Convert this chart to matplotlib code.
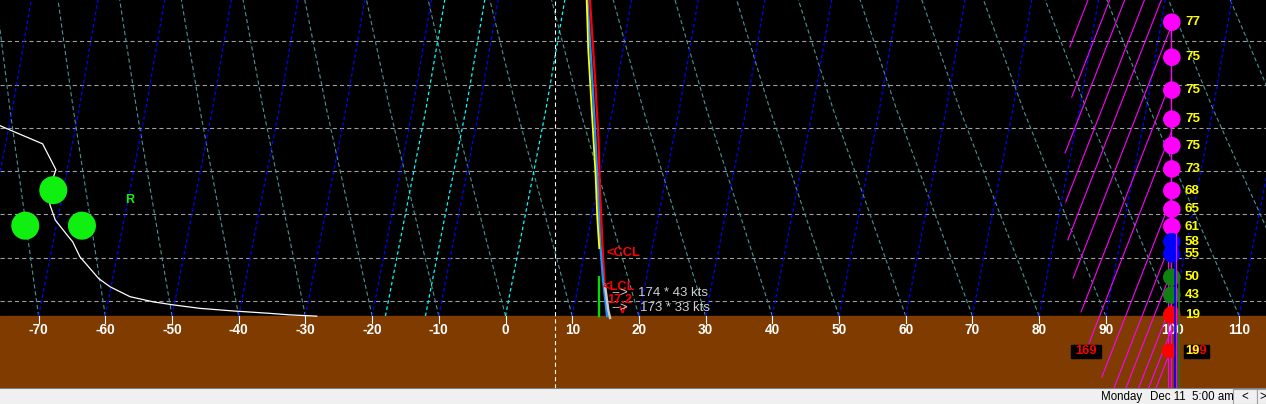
import numpy as np
import matplotlib.pyplot as plt
from matplotlib.patches import Rectangle

plt.rcParams['font.family'] = ['Liberation Sans', 'DejaVu Sans']
plt.rcParams['lines.scale_dashes'] = False

# ---- data (temperature in deg, height in grid levels) ----
GROUND_H = -0.346
LEVELS = [0, 1, 2, 3, 4, 5, 6]
TICKS = list(range(-70, 111, 10))

# skew of isotherms with height
SKEW_H = [-0.346, 4.41, 6.96]
SKEW_DT = [0.0, 6.04, 8.90]

ISOTHERMS = [t for t in range(-90, 111, 10) if t != 0]
CYAN_ISOTHERMS = [-18, -12, 0]
ADIABATS = list(range(-80, 131, 10))

# white curve on the left
CURVE_T = [-75.8, -74.3, -69.4, -67.4, -68.5, -68.3, -67.5, -65.5, -64.9, -63.8, -61.0,
           -59.3, -56.3, -52.8, -49.8, -45.8, -40.8, -35.8, -32.3, -28.3]
CURVE_H = [4.05, 3.95, 3.63, 3.03, 2.56, 2.22, 1.87, 1.48, 1.37, 1.02, 0.52,
           0.33, 0.10, -0.02, -0.09, -0.17, -0.23, -0.28, -0.32, -0.35]

GREEN_DOT_T = [-67.8, -72.0, -63.5]
GREEN_DOT_H = [2.56, 1.74, 1.74]

# sounding traces (actual temperature, unskewed)
RED_T = [3.78, 5.19, 6.52, 8.67, 10.47, 12.64, 14.15, 14.6]
RED_H = [6.95, 6.03, 5.17, 3.79, 2.56, 1.18, 0.25, 0.02]
BLUE_T = [3.40, 5.49, 7.6, 9.8, 11.93, 13.57, 15.22]
BLUE_H = [6.95, 5.57, 4.18, 2.80, 1.41, 0.48, -0.35]
YELLOW_T = [3.28, 4.81, 7.27, 9.45, 10.85, 12.07]
YELLOW_H = [6.95, 5.80, 4.18, 2.86, 1.94, 1.22]
GREEN_T = [12.88, 14.02]
GREEN_H = [0.55, -0.35]
GRAY_T = [14.0, 15.23, 15.67]
GRAY_H = [0.37, -0.21, -0.39]

# wind column on the right
WIND_H = [6.44, 5.63, 4.87, 4.20, 3.59, 3.05, 2.55, 2.12, 1.72, 1.37, 1.09, 0.55, 0.14, -0.32]
WIND_LABELS = ['77', '75', '75', '75', '75', '73', '68', '65', '61', '58', '55', '50', '43', '19']
WIND_COLORS = ['#ff00ff'] * 9 + ['#0000ff'] * 2 + ['#108010'] * 2 + ['#ff0000']

# slanted magenta lines: start points (lower left)
MAG_START_T = [84.6, 84.9, 83.9, 84.0, 84.3, 85.1, 86.3, 87.5, 89.4, 91.0, 92.8, 94.7, 96.2, 97.3]
MAG_START_H = [5.87, 4.71, 3.42, 2.29, 1.41, 0.53, -0.25, -0.97, -1.76, -2.1, -2.1, -2.1, -2.1, -2.1]
MAG_SLOPE = 2.53   # deg per level
MAG_END_T = 99.9

W, H = 1266, 404
fig = plt.figure(figsize=(W / 100, H / 100), dpi=100)
fig.patch.set_facecolor('#f0f0f0')
ax = fig.add_axes([0, 16 / H, 1, 388 / H])
ax.set_facecolor('black')
ax.set_xlim(-75.79, 114.02)
ax.set_ylim(-2.009, 6.952)
ax.set_xticks([])
ax.set_yticks([])
for s in ax.spines.values():
    s.set_visible(False)


def skew(h):
    return np.interp(h, SKEW_H, SKEW_DT)


hh = np.linspace(GROUND_H, 6.96, 60)

# ground
ax.axhspan(-2.1, GROUND_H, color='#7f3b00', zorder=1)

# horizontal level lines
for lv in LEVELS:
    ax.axhline(lv, color='#a0a0a0', lw=0.8, dashes=(3, 2.2), zorder=2)

# teal slanted lines
for t in ADIABATS:
    xs = [t, t - 7.81 - 0.0504 * t, t - 11.6 - 0.075 * t]
    ax.plot(xs, [GROUND_H, 4.41, 6.96], color='#4a9494', lw=0.8, dashes=(3, 2), zorder=2)

# isotherms
for t in ISOTHERMS:
    ax.plot(t + skew(hh), hh, color='#0000ff', lw=0.9, dashes=(2.5, 2), zorder=2)
for t in CYAN_ISOTHERMS:
    ax.plot(t + skew(hh), hh, color='#00ffff', lw=0.9, dashes=(2.5, 2), zorder=2)

# ticks and labels
for t in TICKS:
    ax.plot([t, t], [GROUND_H, -0.5], color='white', lw=0.8, zorder=3)
    ax.text(t, -0.67, str(t), color='white', fontsize=9.8, fontweight='bold',
            ha='center', va='center', zorder=3)

ax.axvline(7.47, color='white', lw=0.8, dashes=(3, 2.2), zorder=3)

# white curve, green dots
ax.plot(CURVE_T, CURVE_H, color='white', lw=0.9, zorder=4)
ax.scatter(GREEN_DOT_T, GREEN_DOT_H, s=407, color='#10f010', edgecolors='none', zorder=5)
ax.text(-56.4, 2.33, 'R', color='#10f010', fontsize=9, fontweight='bold',
        ha='center', va='center', zorder=5)

# sounding
ax.plot(np.array(RED_T) + skew(RED_H), RED_H, color='#ff0000', lw=1.6, zorder=5)
ax.plot(np.array(BLUE_T) + skew(BLUE_H), BLUE_H, color='#1e90ff', lw=1.6, zorder=6)
ax.plot(np.array(YELLOW_T) + skew(YELLOW_H), YELLOW_H, color='#ffff00', lw=1.3, zorder=6)
ax.plot(np.array(GREEN_T) + skew(GREEN_H), GREEN_H, color='#00e000', lw=1.6, zorder=6)
ax.plot(np.array(GRAY_T) + skew(GRAY_H), GRAY_H, color='#c8c8c8', lw=1.8, zorder=6)

red_kw = dict(color='#ff0000', fontsize=9.3, fontweight='bold', va='center', zorder=7)
ax.text(15.07, 1.12, '<CCL', **red_kw)
ax.text(14.6, 0.32, '<LCL', **red_kw)
ax.text(15.2, 0.02, '17.2', **red_kw)
ax.text(17.0, -0.21, 'v', **red_kw)
ax.text(13.1, 7.07, '<EL', clip_on=True, **red_kw)
gray_kw = dict(color='#d0d0d0', fontsize=9.5, va='center', zorder=7)
ax.text(15.8, 0.18, '-->', **gray_kw)
ax.text(15.8, -0.16, '-->', **gray_kw)
ax.text(19.82, 0.18, '174 * 43 kts', **gray_kw)
ax.text(20.16, -0.16, '173 * 33 kts', **gray_kw)

# magenta slanted lines
for t0, h0 in zip(MAG_START_T, MAG_START_H):
    h1 = min(h0 + (MAG_END_T - t0) / MAG_SLOPE, 6.96)
    t1 = t0 + (h1 - h0) * MAG_SLOPE
    ax.plot([t0, t1], [h0, h1], color='#ff00ff', lw=0.8, zorder=4)

# wind column
ax.plot([99.3, 99.3], [WIND_H[8], -2.1], color='#ff00ff', lw=0.8, zorder=6)
ax.plot([99.85, 99.85], [WIND_H[0], -2.1], color='#ff00ff', lw=1.0, zorder=6)
ax.plot([100.6, 100.6], [WIND_H[8], -2.1], color='#ff00ff', lw=0.8, zorder=8)
ax.plot([100.35, 100.35], [WIND_H[9], -2.1], color='#0000ff', lw=1.2, zorder=8)
ax.plot([101.05, 101.05], [WIND_H[11], -2.1], color='#108010', lw=1.2, zorder=8)
ax.scatter([99.9] * len(WIND_H), WIND_H, s=160, c=WIND_COLORS, edgecolors='none', zorder=7)
for h, lab in zip(WIND_H, WIND_LABELS):
    ax.text(101.87, h, lab, color='#ffff00', fontsize=9.6, fontweight='bold',
            va='center', ha='left', zorder=9)

ax.scatter([99.5], [-1.15], s=117, color='#ff0000', edgecolors='none', zorder=7)
ax.add_patch(Rectangle((84.79, -1.309), 4.49, 0.293, color='black', zorder=8))
ax.text(87.03, -1.155, '169', color='#ff0000', fontsize=9.3, fontweight='bold',
        ha='center', va='center', zorder=9)
ax.add_patch(Rectangle((101.72, -1.309), 3.75, 0.293, color='black', zorder=8))
ax.text(103.6, -1.155, '169', color='#ff0000', fontsize=9.3, fontweight='bold',
        ha='center', va='center', zorder=9)
ax.text(101.87, -1.155, '19', color='#ffff00', fontsize=9.3, fontweight='bold',
        ha='left', va='center', zorder=10)

# status bar
fig.add_artist(plt.Line2D([0, 1], [16 / H, 16 / H], color='#808080', lw=0.8))
sb_y = 7 / H
fig.text(1101 / W, sb_y, 'Monday', fontsize=8.3, color='black', va='center')
fig.text(1150 / W, sb_y, 'Dec 11', fontsize=8.3, color='black', va='center')
fig.text(1192 / W, sb_y, '5:00 am', fontsize=8.3, color='black', va='center')
for x0, xt, sym in [(1233, 1245, '<'), (1257, 1262.5, '>')]:
    fig.add_artist(Rectangle((x0 / W, 0), 24 / W, 15 / H, transform=fig.transFigure,
                             facecolor='#f0f0f0', edgecolor='#a0a0a0', lw=0.8))
    fig.text(xt / W, sb_y, sym, fontsize=8.3, color='black', ha='center', va='center')

fig.savefig('out.png', dpi=100, facecolor=fig.get_facecolor())
